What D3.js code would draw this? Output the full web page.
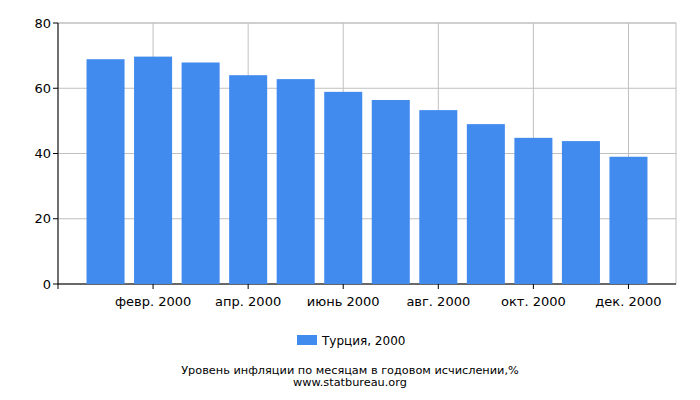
<!DOCTYPE html>
<html><head><meta charset="utf-8">
<script src="https://cdn.jsdelivr.net/npm/d3@7"></script>
<style>body{margin:0;background:#fff}text{font-family:"DejaVu Sans",sans-serif}</style>
</head><body><svg id="c" width="700" height="400"></svg>
<script>
const months = ["янв. 2000","февр. 2000","март 2000","апр. 2000","май 2000","июнь 2000","июль 2000","авг. 2000","сент. 2000","окт. 2000","нояб. 2000","дек. 2000"];
const values = [68.9,69.7,67.9,64.0,62.8,58.9,56.4,53.3,49.0,44.8,43.8,39.0];
const yTicks = [0,20,40,60,80];
const seriesName = "Турция, 2000";
const title = "Уровень инфляции по месяцам в годовом исчислении,%";
const source = "www.statbureau.org";

const svg = d3.select("#c");
const L=58,R=676,T=23,B=284;
const x = d3.scaleLinear().domain([0,13]).range([L,R]);
const y = d3.scaleLinear().domain([0,80]).range([B,T]);
const g = svg.append("g");
g.append("rect").attr("x",L).attr("y",T).attr("width",R-L).attr("height",B-T).attr("fill","none").attr("stroke","#c0c0c0");
yTicks.forEach(t=>{
  g.append("line").attr("x1",L).attr("x2",R).attr("y1",y(t)).attr("y2",y(t)).attr("stroke","#c0c0c0");
  g.append("line").attr("x1",L-5).attr("x2",L).attr("y1",y(t)).attr("y2",y(t)).attr("stroke","#000");
  g.append("text").attr("x",L-7).attr("y",y(t)+4.5).attr("text-anchor","end").attr("font-size",13).text(t);
});
const xt = [2,4,6,8,10,12];
xt.forEach(t=>{
  g.append("line").attr("x1",x(t)).attr("x2",x(t)).attr("y1",T).attr("y2",B).attr("stroke","#c0c0c0");
  g.append("line").attr("x1",x(t)).attr("x2",x(t)).attr("y1",B).attr("y2",B+5).attr("stroke","#000");
  g.append("text").attr("x",x(t)).attr("y",B+22).attr("text-anchor","middle").attr("font-size",13).text(months[t-1]);
});
g.append("line").attr("x1",L).attr("x2",L).attr("y1",B).attr("y2",B+5).attr("stroke","#000");
g.append("line").attr("x1",L).attr("x2",R).attr("y1",B).attr("y2",B).attr("stroke","#000");
g.append("line").attr("x1",L).attr("x2",L).attr("y1",T).attr("y2",B).attr("stroke","#000");
const w=0.8;
g.selectAll(".bar").data(values).join("rect")
 .attr("x",(d,i)=>x(i+1-w/2)).attr("width",x(w)-x(0))
 .attr("y",d=>y(d)).attr("height",d=>B-y(d)).attr("fill","#428bee");
svg.append("rect").attr("x",297).attr("y",335).attr("width",20).attr("height",10).attr("fill","#428bee");
svg.append("text").attr("x",322).attr("y",345).attr("font-size",12).text(seriesName);
svg.append("text").attr("x",350).attr("y",374).attr("text-anchor","middle").attr("font-size",11.3).text(title);
svg.append("text").attr("x",350).attr("y",386).attr("text-anchor","middle").attr("font-size",11.3).text(source);
</script></body></html>
